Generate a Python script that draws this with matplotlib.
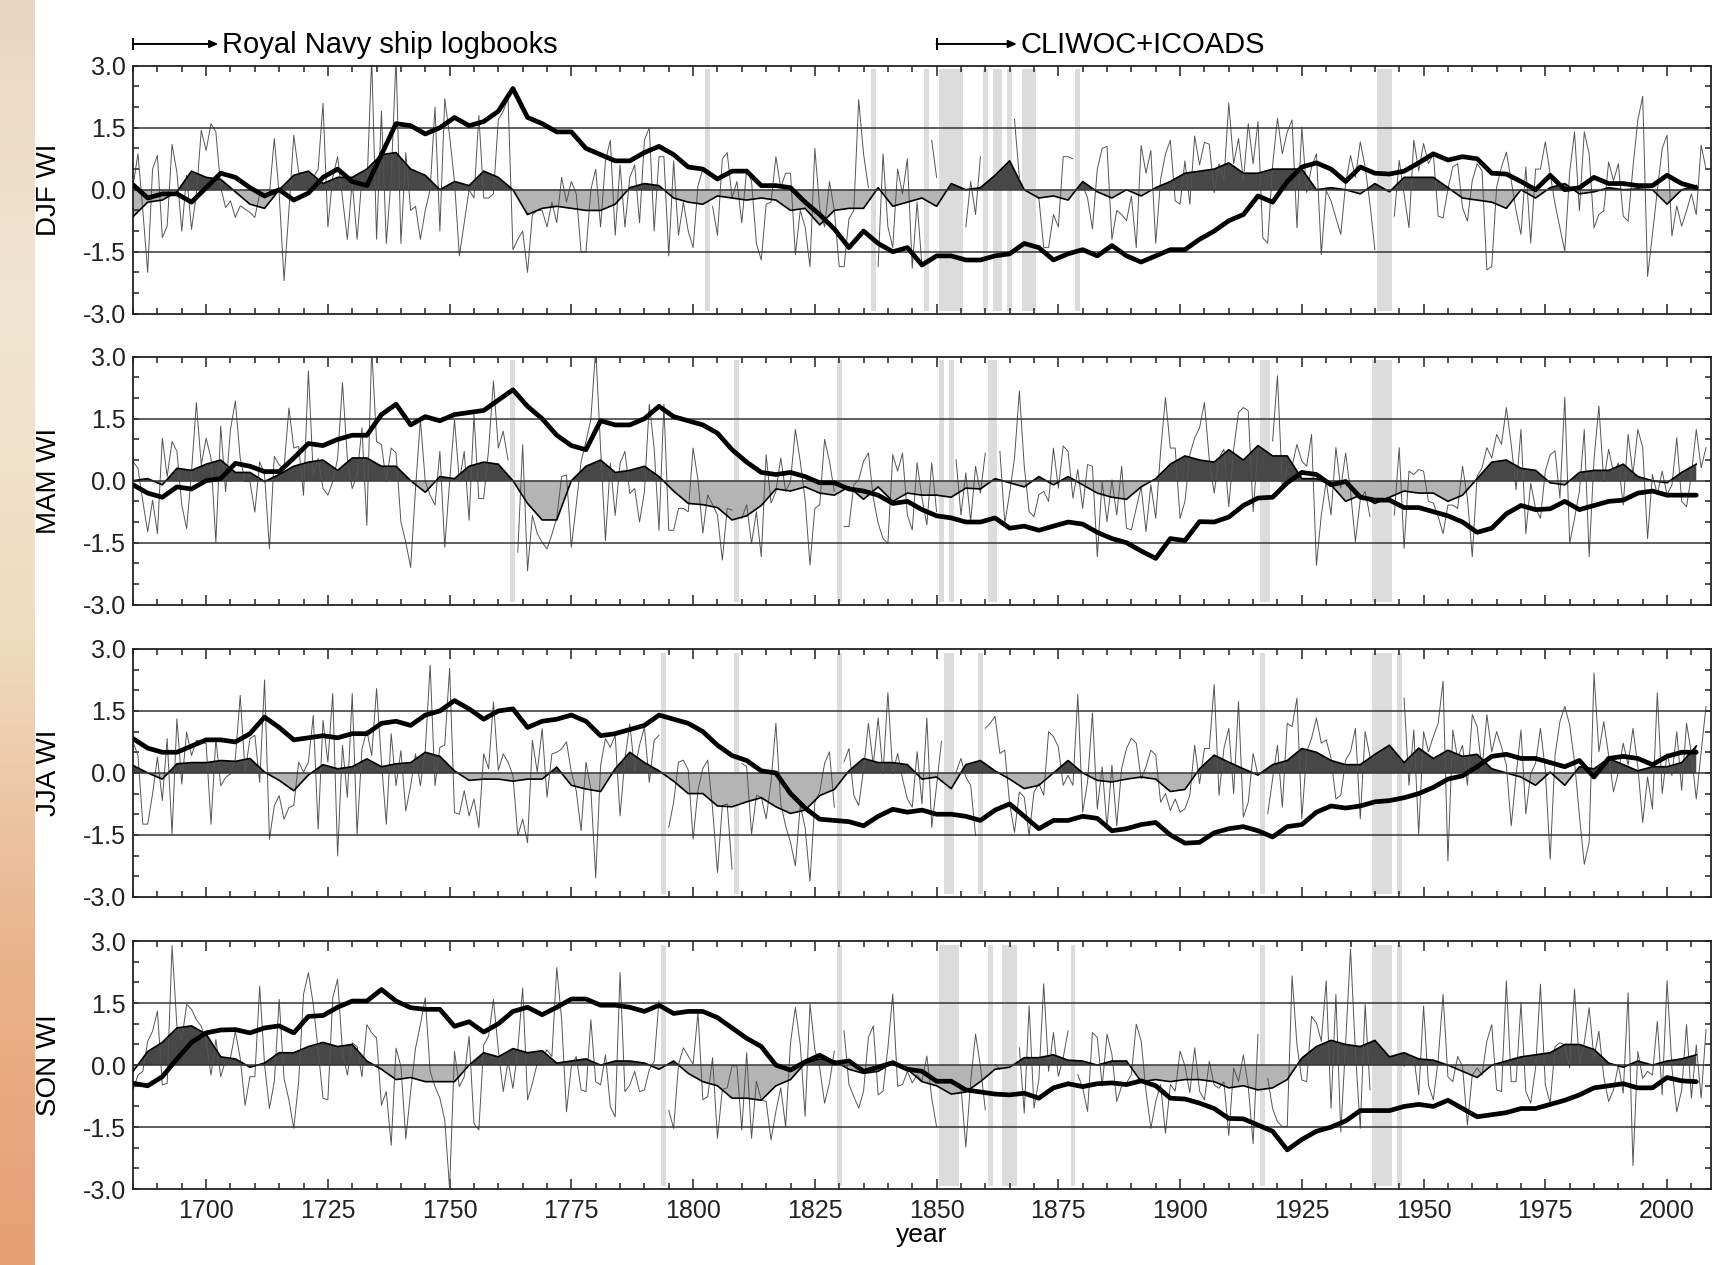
import numpy as np
import matplotlib
matplotlib.use("Agg")
import matplotlib.pyplot as plt
from matplotlib.ticker import MultipleLocator
from matplotlib.colors import LinearSegmentedColormap

plt.rcParams['font.family'] = ['Liberation Sans', 'DejaVu Sans']

nan = np.nan

# annual index values 1685-2008 (nan = no data)
years = np.arange(1685, 2009)
# smoothed curve and thick curve read every 3 years
years3 = np.arange(1685, 2009, 3)

djf_wi = [
    0.1, 0.87, -0.5, -2.0, 0.5,
    0.83, -1.16, -0.88, 1.1, 0.42, -1.0, 0.35, -0.96, -0.1, 1.44,
    0.95, 1.6, 1.4, 0.05, -0.43, -0.27, -0.67, -0.39, -0.47, -0.55,
    -0.67, -0.1, -0.2, -0.1, 1.24, -0.1, -2.2, -0.5, 1.32, 0.42,
    0.34, 0.46, 0.3, 0.5, 2.09, -0.9, 0.3, 0.8, -0.2, -1.2,
    0.2, -1.2, 0.3, 0.0, 3.2, -1.2, 1.9, -1.3, 0.3, 3.2,
    -1.3, 0.9, -0.5, -0.4, -1.2, -0.5, 0.0, 2.0, -1.0, 2.2,
    1.3, 0.2, -1.6, -0.8, 0.0, -0.2, 1.8, -0.2, -0.2, -0.1,
    1.7, 1.9, 2.2, -1.45, -1.2, -1.0, -2.0, -0.6, -0.5, -0.5,
    -0.9, -0.3, -0.8, 0.3, -0.3, 0.2, -0.1, -1.5, -1.5, 0.0,
    0.5, -0.9, 0.7, 1.2, -1.1, 0.6, -0.9, 0.3, 0.6, -0.8,
    1.2, 1.5, -1.0, 0.8, 0.8, -1.6, 0.7, -1.1, -0.3, -1.0,
    -1.4, 0.1, 0.5, nan, -0.4, -1.1, 0.75, 0.9, -0.2, 0.2,
    -0.8, 0.5, 0.2, -1.3, -1.7, -0.35, -0.3, 0.8, 0.05, 0.4,
    0.4, -1.57, -0.5, -0.9, -1.86, 1.0, -0.45, -0.9, 0.2, -0.5,
    -1.86, -1.86, -0.7, -0.5, 2.18, 0.87, 0.05, nan, -1.86, 0.87,
    -0.9, -1.4, 0.5, -0.1, 0.75, -1.9, -0.3, -1.86, nan, 1.2,
    0.3, nan, nan, nan, nan, nan, -0.9, 0.2, -0.6, 0.8,
    nan, 0.5, nan, nan, 0.3, nan, 1.7, 0.3, nan, nan,
    nan, -0.2, -1.4, -1.4, -0.6, -0.9, 0.8, 0.8, 0.75, nan,
    0.1, -0.2, -0.95, 0.5, 1.0, 1.05, -1.2, -0.5, -0.6, -0.75,
    -0.15, -1.4, 1.07, 0.4, 0.95, -1.3, 0.25, 0.87, 1.2, -0.27,
    -0.35, 0.7, -0.35, 1.3, 0.6, 1.15, 1.1, -0.07, 0.63, 0.22,
    2.1, 0.63, 1.24, 0.22, 1.6, 0.63, 1.65, -1.17, -1.29, 0.59,
    1.73, 0.87, 1.4, 1.69, -0.92, 1.52, -0.07, 0.55, 0.87, -1.57,
    -0.02, -0.27, -0.68, -1.08, 0.14, 0.83, 0.3, 1.16, 0.55, -0.35,
    -1.45, nan, nan, nan, -0.64, 0.71, -0.1, -0.92, 1.2, 0.46,
    1.12, 0.63, 0.87, -0.64, -0.68, 0.02, 0.55, 0.63, -0.43, -0.76,
    0.22, 0.63, 0.46, -1.94, -1.86, 0.06, 0.55, 0.91, 0.22, -0.51,
    -1.08, 0.55, -1.29, 0.5, 0.5, 1.16, 0.38, -0.35, -0.92, -1.49,
    0.42, 1.4, -0.51, 1.4, 0.87, -0.92, -0.6, -0.51, 0.67, 0.22,
    0.63, -0.64, -0.76, 0.55, 1.69, 2.26, -2.1, -1.08, -0.02, 1.0,
    1.32, -1.12, -0.39, -0.88, -0.51, -0.1, -0.6, 1.08, 0.5,
]

mam_wi = [
    0.46, 0.3, -0.5, -1.24, -0.47,
    -1.28, 1.03, 0.1, 0.95, 0.71, -0.59, -1.16, 0.22, 1.89, 0.38,
    1.03, 0.54, -1.49, 1.32, -0.27, 1.24, 1.93, 0.54, -0.02, -0.02,
    -0.76, 0.46, 0.14, -1.65, 0.59, 0.38, 0.3, 1.76, 0.79, 0.83,
    -0.35, 2.66, 0.14, 0.54, -0.19, -0.35, -0.02, 0.54, 2.37, 0.54,
    -0.19, 0.14, 1.28, -1.08, 3.2, 0.95, 0.87, -0.02, 0.79, 0.67,
    -1.0, -1.49, -2.1, -0.19, 1.48, -0.02, -0.35, -0.59, 0.71, -1.61,
    -0.02, 1.48, -0.02, 0.71, -0.96, 1.6, -0.43, -0.43, 0.75, 2.41,
    0.79, 1.2, 0.5, nan, -1.73, 0.87, -2.18, -0.84, -1.28, -1.49,
    -1.65, -1.3, -0.9, 0.1, 0.14, -1.61, -0.59, 0.46, 0.95, 1.48,
    3.2, 0.79, -1.45, 0.42, -0.84, 0.42, 0.71, -0.31, -0.19, -1.0,
    -0.27, 1.85, 0.79, -1.2, 1.85, -1.2, -1.2, -0.67, -0.67, -0.75,
    0.79, 0.02, -1.27, -0.34, -0.58, -0.83, -1.92, -0.67, -0.71, nan,
    -0.91, -0.58, -1.52, -0.75, -1.84, 0.63, -0.54, -0.26, 0.55, -0.26,
    -0.02, 1.24, 0.47, -0.46, -2.04, -0.67, -0.58, 1.0, 0.47, -0.26,
    nan, -1.11, -1.11, -0.1, 0.02, 0.47, 0.67, -0.42, -1.03, -1.4,
    -1.52, 0.63, 0.23, 0.67, -0.83, -1.19, 0.43, -0.42, -1.07, 0.43,
    -0.75, nan, -0.67, nan, 0.51, -0.83, 0.19, -0.99, 0.35, -0.3,
    0.67, nan, nan, 0.71, -1.03, -0.3, 0.55, 2.17, 0.35, -0.75,
    -0.87, -0.34, -0.26, -0.5, 0.79, -0.18, 0.84, 0.71, -0.42, 0.27,
    -0.67, 0.39, 0.35, -1.84, -0.02, -0.99, 0.02, -0.83, 0.35, -1.15,
    -1.19, -0.67, -0.14, -1.23, -0.1, -0.91, 0.71, 2.01, 0.79, 0.79,
    -0.91, -0.5, 0.63, 1.04, 1.28, 1.89, 0.51, -0.3, 0.55, 0.76,
    -0.63, 0.76, 1.65, 1.77, 1.69, -0.75, 0.8, nan, nan, 0.96,
    2.54, -0.18, 0.31, 0.35, 0.88, 0.47, 0.35, 1.12, -2.05, -0.83,
    -0.02, -0.83, 0.8, -0.18, 0.67, -0.26, -1.48, -0.46, -0.26, -0.87,
    nan, nan, nan, nan, -0.83, 0.8, -1.64, 0.23, 0.15, 0.27,
    0.23, -0.5, -0.54, -0.87, -1.28, -0.59, -0.59, -0.67, 0.35, -0.42,
    -1.84, 0.11, 0.31, 0.8, 0.55, 1.12, 0.88, 1.77, 0.88, -0.22,
    1.24, -1.28, -0.06, -0.67, -0.91, 0.23, 0.63, 0.72, -0.42, 2.02,
    -1.52, -0.91, -0.26, 1.24, -1.84, 0.51, 1.81, -0.02, 0.76, 0.19,
    0.43, -0.59, 1.12, 0.15, 1.24, 0.8, -1.4, 0.15, -0.34, 0.23,
    -0.34, -0.1, 1.04, -0.5, -0.63, 0.15, 1.24, 0.31, 0.8,
]

jja_wi = [
    0.75, 0.42, -1.24, -1.24, -0.51,
    0.38, -0.67, 0.83, -1.48, 1.31, -0.27, 0.99, 0.42, 0.79, 0.75,
    0.71, -1.24, 0.83, -0.31, -0.11, -0.02, 0.34, 1.88, 0.02, 0.83,
    0.91, -0.23, 2.25, -1.61, -0.79, -0.55, -1.12, -0.84, -0.79, 0.26,
    0.02, 0.26, 1.39, -1.36, 1.27, 0.26, 1.92, -2.01, 0.67, -0.59,
    1.92, -1.48, 0.58, 1.03, 0.42, 2.04, 0.26, -1.24, 0.95, -0.31,
    0.54, -0.92, -0.31, 0.46, -0.31, 0.54, 2.61, -0.31, 0.62, 0.67,
    2.53, -0.96, -1.0, -0.43, -1.04, -0.63, -1.32, 0.46, 0.1, 1.72,
    0.06, 0.46, 0.26, -0.06, -1.52, -1.12, -1.69, 0.79, 0.02, 1.07,
    -0.59, 0.46, 0.5, 0.58, 0.75, 0.02, -0.43, -1.4, 0.26, -0.39,
    -2.54, 0.18, 0.83, 0.62, 0.91, -1.04, 0.34, 1.19, 0.06, 0.67,
    1.11, -0.23, 0.79, 0.91, nan, -1.32, -0.71, 0.26, 0.31, 0.07,
    -1.6, -0.42, 0.11, 0.31, -0.87, -2.41, -0.79, -0.75, -2.33, nan,
    0.23, 0.15, -1.48, -0.54, -0.59, -1.11, -0.22, 1.2, -0.75, -1.28,
    -1.68, -2.25, -0.79, -1.32, -2.62, -0.71, -0.46, 0.23, 0.51, -0.83,
    nan, 0.27, 0.59, -0.54, -0.79, 0.07, 1.2, 0.19, 1.33, -0.02,
    1.94, -0.02, 0.47, -0.14, -0.63, -0.83, 0.51, -0.75, 1.33, -1.32,
    -0.3, 0.76, nan, nan, 0.02, 0.35, -0.1, -0.3, -1.52, nan,
    1.08, 1.2, 1.37, 0.47, 0.55, -0.75, -1.44, -0.46, -0.59, -1.52,
    -0.46, -0.26, -0.54, 1.0, 0.88, 0.63, -0.3, -0.06, -0.3, 1.9,
    -0.95, -0.22, 1.45, -0.87, 0.15, -1.32, 0.19, -1.28, 0.11, 0.59,
    0.84, 0.72, -0.14, 0.15, 0.55, 0.43, -0.71, -0.5, -0.91, -0.63,
    -0.95, -0.87, -0.54, 0.67, -0.26, 0.59, 0.59, 2.14, -0.54, 0.59,
    1.08, -0.5, 1.73, -1.07, -0.71, 0.47, -0.06, nan, -0.99, -0.14,
    0.67, -0.83, 1.2, 1.12, 1.81, -1.11, 0.51, 0.84, 1.33, 0.72,
    0.8, 0.35, -0.63, -0.54, 0.31, 0.51, 1.08, -1.11, 1.0, 0.39,
    nan, nan, nan, nan, -0.14, nan, 1.81, -0.3, 1.04, -1.48,
    1.0, 0.51, 0.88, 1.2, 2.22, -2.13, 1.04, 0.35, 0.67, -0.3,
    1.41, 1.12, 0.07, 1.41, 0.51, 1.0, 0.63, 0.19, -1.28, -0.06,
    1.04, -0.99, -0.02, 0.23, 1.08, 0.07, -2.09, 0.43, 1.24, 1.61,
    1.16, 0.27, -1.03, -2.21, -1.68, 2.42, 0.51, 1.24, 0.43, -0.46,
    0.02, 0.72, 0.19, 1.08, 0.15, -1.2, -0.1, -0.87, 1.94, -0.5,
    0.47, -0.06, 1.0, -0.42, 1.2, 0.47, -0.63, 0.51, 1.61,
]

son_wi = [
    -0.6, -0.24, -0.15, 0.58, 0.82,
    1.31, -0.48, -0.44, 2.89, 0.94, 0.62, 1.47, 1.35, 1.1, 0.94,
    0.58, -0.24, 0.62, -0.28, 0.13, 0.17, 0.82, 0.17, -0.97, -0.28,
    -0.28, 1.91, 0.01, -1.05, -0.4, 1.59, -0.32, -0.84, -1.53, -0.4,
    1.71, 2.24, 1.47, 0.37, -0.8, -0.84, 1.63, 2.08, 0.33, -0.24,
    0.54, 0.45, -0.28, 0.98, 0.78, 0.66, -0.97, -0.64, -1.94, 0.41,
    -0.03, -1.78, -0.64, 0.41, 0.98, 1.63, -0.15, -0.52, -0.8, -1.33,
    -2.99, 0.33, -0.52, -0.28, 0.7, -1.41, -1.57, 0.49, 0.7, 1.59,
    0.37, -0.64, 0.09, -0.56, 0.37, 1.87, -0.84, -0.44, 0.05, 0.17,
    0.37, 0.21, 2.36, 1.1, -1.13, -0.03, 0.21, -0.6, -0.64, 1.1,
    -0.4, -0.48, 0.25, -1.01, -1.25, 2.24, -0.64, -0.48, -0.15, -0.64,
    -0.6, -0.11, 0.09, 1.55, nan, -1.09, -1.53, 0.01, 0.42, 0.22,
    0.02, 1.28, -0.84, -0.76, 0.18, -1.77, -0.59, -0.55, -0.02, -0.02,
    -1.57, 0.3, -1.77, -0.39, -0.84, -0.88, -1.81, -1.12, -0.55, -1.49,
    0.54, 1.4, 0.5, -1.24, 1.48, 0.38, -0.07, -0.92, -0.43, 0.34,
    nan, 0.83, -0.47, -0.76, -1.04, -0.63, 0.67, 0.95, -0.72, -0.63,
    0.42, 1.72, -0.51, -0.47, -0.15, -0.43, -0.23, -0.39, 0.22, -0.8,
    -1.49, nan, nan, nan, nan, -0.51, -1.98, -0.39, 0.75, -0.02,
    -1.08, nan, 0.02, -0.11, nan, nan, nan, 0.42, -1.16, 1.44,
    -1.04, -0.35, 1.97, -0.15, 0.79, -0.27, 0.18, 0.83, nan, -0.23,
    -0.55, -1.12, 0.79, 0.67, -0.51, 0.75, 0.26, -0.88, -0.51, -0.43,
    -0.23, 0.99, 0.59, -0.63, -1.53, -0.88, -0.47, -1.65, -0.47, -0.63,
    0.34, -0.02, -0.67, 0.42, -0.63, -0.84, 0.09, -0.48, -0.56, -0.4,
    -1.7, -0.07, -0.4, 0.25, -0.52, -1.9, 0.74, nan, -0.32, -1.05,
    -1.37, -1.49, -1.49, 2.16, 0.49, -0.36, -0.4, 1.18, 1.02, 0.58,
    2.04, -1.05, 1.71, -1.62, 0.54, 2.81, 0.33, -1.53, 1.47, -0.6,
    nan, nan, nan, nan, -0.07, nan, -0.03, 0.17, 0.21, -0.72,
    1.43, -0.48, -0.84, 0.13, 1.71, -0.28, -0.4, 0.21, -0.03, -1.45,
    -0.24, -0.07, -0.24, 0.58, 0.98, -0.6, -0.64, 2.04, -0.4, -0.4,
    1.51, -0.64, -0.92, -0.07, 1.96, -0.48, -0.92, 0.45, 0.54, 0.49,
    -0.07, 1.84, 0.01, 0.54, 1.39, 0.17, 0.82, -0.28, -0.88, -0.6,
    0.01, -0.68, 1.75, -2.43, 0.33, -0.32, -0.15, -0.24, 1.06, -0.72,
    2.04, -0.07, -1.13, -0.6, 0.98, -0.8, 0.49, -0.8, 0.86,
]

# smoothed index (filled curve), every 3 years from 1685
djf_smooth = [
    -0.65, -0.3, -0.25, -0.05, 0.45, 0.3, 0.25, -0.05, -0.35, -0.45,
    0.0, 0.35, 0.45, 0.15, 0.3, 0.3, 0.5, 0.85, 0.9, 0.5,
    0.35, 0.0, 0.2, 0.1, 0.45, 0.3, 0.0, -0.6, -0.45, -0.4,
    -0.45, -0.5, -0.5, -0.35, 0.05, 0.15, 0.1, -0.2,
    -0.3, -0.35, -0.15, -0.2, -0.25, -0.2, -0.25, -0.5, -0.45, -0.85,
    -0.5, -0.45, -0.45, 0.05, -0.4, -0.3, -0.2, -0.4, 0.15, 0.0,
    0.05, 0.35, 0.7, 0.0, -0.2, -0.15, -0.25, 0.2, -0.05, -0.2,
    0.0, -0.15, 0.05, 0.2, 0.4, 0.45,
    0.5, 0.65, 0.4, 0.4, 0.5, 0.5, 0.5, 0.0, 0.05, 0.0,
    -0.1, 0.15, -0.05, 0.3, 0.3, 0.3, 0.05, -0.2, -0.25, -0.3,
    -0.45, 0.0, -0.2, 0.05, 0.15, -0.1, -0.05, 0.05, 0.0, 0.02,
    0.0, -0.35, 0.0, 0.1,
]
mam_smooth = [
    0.0, 0.05, -0.1, 0.3, 0.25, 0.4, 0.5, 0.2, 0.2, -0.02,
    0.15, 0.35, 0.45, 0.5, 0.25, 0.55, 0.55, 0.35, 0.35, 0.0,
    -0.28, 0.1, 0.05, 0.35, 0.45, 0.4, 0.0, -0.55, -0.95, -0.95,
    0.0, 0.35, 0.5, 0.2, 0.25, 0.35, 0.1, -0.25,
    -0.55, -0.58, -0.65, -0.95, -0.85, -0.6, -0.2, -0.25, -0.15, -0.3,
    -0.35, -0.15, -0.45, -0.15, -0.5, -0.3, -0.35, -0.35, -0.4, -0.18,
    -0.2, 0.05, -0.05, -0.15, 0.1, -0.1, 0.1, -0.1, -0.3, -0.4,
    -0.45, -0.15, 0.05, 0.4, 0.6, 0.5,
    0.45, 0.75, 0.5, 0.85, 0.6, 0.6, 0.05, 0.05, -0.1, -0.5,
    -0.35, -0.55, -0.4, -0.25, -0.3, -0.3, -0.5, -0.35, 0.05, 0.45,
    0.5, 0.3, 0.25, -0.05, -0.1, 0.2, 0.25, 0.25, 0.4, 0.1,
    0.0, -0.05, 0.2, 0.4,
]
jja_smooth = [
    0.18, 0.0, -0.15, 0.22, 0.25, 0.25, 0.3, 0.28, 0.35, 0.02,
    -0.18, -0.43, -0.05, 0.2, 0.1, 0.15, 0.34, 0.15, 0.22, 0.25,
    0.5, 0.4, 0.05, -0.18, -0.15, -0.15, -0.2, -0.15, -0.15, 0.14,
    -0.3, -0.39, -0.45, 0.1, 0.5, 0.25, 0.05, -0.2,
    -0.5, -0.5, -0.8, -0.82, -0.7, -0.6, -0.82, -0.98, -0.9, -0.55,
    -0.4, 0.05, 0.35, 0.25, 0.25, 0.2, -0.15, -0.1, -0.38, 0.2,
    0.3, 0.05, -0.15, -0.38, -0.3, 0.0, 0.3, 0.0, -0.18, -0.22,
    -0.15, -0.1, -0.15, -0.45, -0.4, 0.1,
    0.43, 0.26, 0.1, -0.05, 0.2, 0.3, 0.59, 0.5, 0.3, 0.2,
    0.2, 0.45, 0.67, 0.25, 0.6, 0.35, 0.55, 0.4, 0.45, 0.1,
    0.0, -0.1, -0.3, 0.02, -0.3, 0.15, 0.1, 0.35, 0.2, 0.05,
    0.15, 0.15, 0.25, 0.65,
]
son_smooth = [
    -0.15, 0.33, 0.55, 0.9, 0.95, 0.75, 0.2, 0.15, -0.05, 0.05,
    0.3, 0.3, 0.45, 0.55, 0.45, 0.5, 0.1, -0.1, -0.35, -0.3,
    -0.4, -0.4, -0.4, 0.0, 0.3, 0.2, 0.4, 0.3, 0.35, 0.05,
    0.1, 0.15, 0.0, 0.1, 0.1, 0.05, -0.1, 0.1,
    -0.2, -0.4, -0.5, -0.8, -0.8, -0.85, -0.5, -0.35, 0.05, 0.15,
    0.1, -0.1, -0.2, -0.15, 0.06, -0.1, -0.4, -0.5, -0.7, -0.65,
    -0.4, -0.1, -0.05, 0.18, 0.18, 0.25, 0.12, 0.1, 0.0, 0.1,
    0.1, -0.4, -0.35, -0.4, -0.35, -0.35,
    -0.4, -0.55, -0.5, -0.6, -0.55, -0.35, 0.17, 0.45, 0.6, 0.5,
    0.45, 0.6, 0.2, 0.3, 0.15, 0.12, 0.0, -0.15, -0.3, 0.0,
    0.1, 0.2, 0.25, 0.3, 0.5, 0.5, 0.38, 0.05, -0.05, 0.1,
    0.0, 0.1, 0.15, 0.25,
]

# thick curve, every 3 years from 1685
djf_thick = [
    0.12, -0.2, -0.1, -0.1, -0.3, 0.05, 0.4, 0.3, 0.05, -0.15,
    0.0, -0.25, -0.08, 0.3, 0.5, 0.2, 0.1, 0.85, 1.6, 1.55,
    1.35, 1.5, 1.75, 1.55, 1.65, 1.9, 2.45, 1.75, 1.6, 1.4,
    1.4, 1.0, 0.85, 0.7, 0.7, 0.9, 1.05, 0.85,
    0.55, 0.5, 0.26, 0.45, 0.45, 0.1, 0.1, 0.05, -0.3, -0.6,
    -0.95, -1.4, -1.0, -1.3, -1.5, -1.4, -1.82, -1.6, -1.6, -1.7,
    -1.7, -1.6, -1.55, -1.3, -1.4, -1.7, -1.55, -1.45, -1.6, -1.35,
    -1.6, -1.75, -1.6, -1.45, -1.45, -1.2,
    -1.0, -0.75, -0.6, -0.15, -0.3, 0.2, 0.55, 0.65, 0.5, 0.2,
    0.55, 0.4, 0.38, 0.45, 0.65, 0.87, 0.72, 0.8, 0.75, 0.4,
    0.38, 0.2, 0.0, 0.35, 0.0, 0.05, 0.3, 0.15, 0.15, 0.1,
    0.1, 0.35, 0.15, 0.05,
]
mam_thick = [
    -0.1, -0.3, -0.4, -0.15, -0.2, 0.0, 0.05, 0.42, 0.35, 0.22,
    0.22, 0.55, 0.9, 0.85, 1.0, 1.1, 1.1, 1.6, 1.85, 1.35,
    1.55, 1.45, 1.6, 1.65, 1.7, 1.95, 2.2, 1.8, 1.5, 1.1,
    0.85, 0.75, 1.45, 1.35, 1.35, 1.5, 1.8, 1.55,
    1.45, 1.35, 1.15, 0.75, 0.45, 0.2, 0.15, 0.2, 0.1, -0.05,
    -0.05, -0.2, -0.25, -0.35, -0.55, -0.5, -0.7, -0.85, -0.9, -1.0,
    -1.0, -0.9, -1.15, -1.1, -1.2, -1.1, -1.0, -1.05, -1.25, -1.4,
    -1.5, -1.7, -1.88, -1.4, -1.45, -0.99,
    -1.0, -0.88, -0.6, -0.42, -0.4, -0.05, 0.2, 0.15, -0.1, -0.02,
    -0.4, -0.47, -0.47, -0.65, -0.65, -0.75, -0.85, -1.0, -1.25, -1.15,
    -0.8, -0.6, -0.7, -0.68, -0.5, -0.7, -0.6, -0.5, -0.47, -0.3,
    -0.25, -0.35, -0.35, -0.35,
]
jja_thick = [
    0.83, 0.6, 0.5, 0.5, 0.65, 0.8, 0.8, 0.75, 0.95, 1.35,
    1.1, 0.8, 0.85, 0.9, 0.85, 0.95, 0.95, 1.2, 1.25, 1.15,
    1.4, 1.5, 1.75, 1.55, 1.3, 1.5, 1.55, 1.1, 1.25, 1.3,
    1.4, 1.25, 0.9, 0.95, 1.05, 1.15, 1.4, 1.3,
    1.2, 1.0, 0.67, 0.42, 0.3, 0.05, 0.0, -0.5, -0.85, -1.12,
    -1.15, -1.18, -1.28, -1.05, -0.88, -0.95, -0.9, -1.0, -1.0, -1.05,
    -1.15, -0.9, -0.75, -1.05, -1.35, -1.15, -1.15, -1.05, -1.1, -1.4,
    -1.35, -1.25, -1.2, -1.5, -1.7, -1.68,
    -1.45, -1.35, -1.3, -1.4, -1.55, -1.3, -1.25, -0.95, -0.8, -0.85,
    -0.8, -0.7, -0.67, -0.6, -0.5, -0.35, -0.15, -0.07, 0.15, 0.4,
    0.45, 0.35, 0.35, 0.25, 0.15, 0.3, -0.1, 0.35, 0.4, 0.35,
    0.2, 0.4, 0.5, 0.5,
]
son_thick = [
    -0.44, -0.5, -0.28, 0.15, 0.55, 0.78, 0.85, 0.86, 0.78, 0.9,
    0.95, 0.78, 1.18, 1.2, 1.4, 1.55, 1.55, 1.83, 1.55, 1.39,
    1.35, 1.35, 0.94, 1.05, 0.8, 1.0, 1.3, 1.4, 1.22, 1.4,
    1.6, 1.6, 1.45, 1.45, 1.4, 1.3, 1.45, 1.25,
    1.3, 1.3, 1.15, 0.9, 0.65, 0.45, 0.0, -0.12, 0.08, 0.24,
    0.05, 0.1, -0.15, -0.05, 0.06, -0.1, -0.15, -0.39, -0.39, -0.6,
    -0.65, -0.7, -0.72, -0.68, -0.8, -0.55, -0.45, -0.52, -0.45, -0.43,
    -0.47, -0.38, -0.5, -0.8, -0.82, -0.92,
    -1.05, -1.29, -1.3, -1.45, -1.6, -2.05, -1.8, -1.6, -1.5, -1.35,
    -1.1, -1.1, -1.1, -1.0, -0.95, -1.0, -0.85, -1.05, -1.25, -1.2,
    -1.15, -1.05, -1.05, -0.95, -0.85, -0.72, -0.55, -0.5, -0.45, -0.55,
    -0.55, -0.3, -0.38, -0.4,
]

panels = [
    ("DJF WI", djf_wi, djf_smooth, djf_thick),
    ("MAM WI", mam_wi, mam_smooth, mam_thick),
    ("JJA WI", jja_wi, jja_smooth, jja_thick),
    ("SON WI", son_wi, son_smooth, son_thick),
]

FS = 18

fig = plt.figure(figsize=(17.15, 12.65), dpi=100)

# background strip on the left edge of the screenshot
bg = fig.add_axes([0, 0, 35 / 1715, 1])
strip = LinearSegmentedColormap.from_list(
    "strip", ["#e9d6c0", "#f2e6d2", "#efdcc0", "#eab48c", "#e79f74"])
bg.imshow(np.linspace(0, 1, 256).reshape(-1, 1), aspect="auto", cmap=strip)
bg.axis("off")

bottoms = [0.752, 0.522, 0.291, 0.060]
axes = []
for (label, raw, smooth, thick), b in zip(panels, bottoms):
    ax = fig.add_axes([0.0776, b, 0.920, 0.196])
    axes.append(ax)
    raw = np.array(raw, dtype=float)
    smooth = np.array(smooth)
    thick = np.array(thick)

    # grey bars where a year has no data
    for yr in years[np.isnan(raw)]:
        ax.axvspan(yr - 0.5, yr + 0.5, ymin=0.012, ymax=0.985,
                   color="#dcdcdc", lw=0, zorder=0)

    ax.fill_between(years3, smooth, 0, where=smooth >= 0, interpolate=True,
                    color="#474747", lw=0, zorder=1)
    ax.fill_between(years3, smooth, 0, where=smooth <= 0, interpolate=True,
                    color="#b4b4b4", lw=0, zorder=1)
    ax.plot(years, raw, color="#555555", lw=0.7, zorder=2)
    ax.plot(years3, smooth, color="black", lw=1.2, zorder=3)
    for h in (-1.5, 0.0, 1.5):
        ax.axhline(h, color="#333333", lw=1.1, zorder=3)
    ax.plot(years3, thick, color="black", lw=3.4, zorder=4,
            solid_joinstyle="round", solid_capstyle="round")

    ax.set_xlim(1685, 2009)
    ax.set_ylim(-3, 3)
    ax.set_xticks(np.arange(1700, 2001, 25))
    ax.xaxis.set_minor_locator(MultipleLocator(5))
    ax.set_yticks([-3, -1.5, 0, 1.5, 3])
    ax.set_yticklabels(["-3.0", "-1.5", "0.0", "1.5", "3.0"])
    ax.yaxis.set_minor_locator(MultipleLocator(0.5))
    ax.tick_params(which="both", direction="in", top=True, right=True,
                   labelsize=FS, width=1.1, colors="#222222")
    ax.tick_params(axis="x", which="major", length=7, pad=7)
    ax.tick_params(axis="x", which="minor", length=4)
    ax.tick_params(axis="y", which="both", length=4, pad=5)
    ax.tick_params(axis="x", labelbottom=False)
    for s in ax.spines.values():
        s.set_linewidth(1.3)
        s.set_color("#222222")
    fig.text(0.0286, b + 0.098, label, rotation=90, ha="center", va="center",
             fontsize=20)

axes[-1].tick_params(axis="x", labelbottom=True)
axes[-1].set_xlabel("year", fontsize=19, labelpad=0)

# data-source markers above the top panel
top = axes[0]
tr = top.get_xaxis_transform()
for start, end, text in [(1685, 1702.5, "Royal Navy ship logbooks"),
                         (1850, 1866.5, "CLIWOC+ICOADS")]:
    top.annotate("", xy=(end, 1.088), xytext=(start, 1.088), xycoords=tr,
                 textcoords=tr, annotation_clip=False,
                 arrowprops=dict(arrowstyle="-|>,head_length=0.5,head_width=0.22",
                                 color="black", lw=1.4, shrinkA=0, shrinkB=0))
    top.plot([start], [1.088], marker="|", markersize=9, mew=1.4,
             color="black", transform=tr, clip_on=False)
    top.text(end + 0.8, 1.082, text, transform=tr, fontsize=21,
             ha="left", va="center")

fig.savefig("out.png", dpi=100)
